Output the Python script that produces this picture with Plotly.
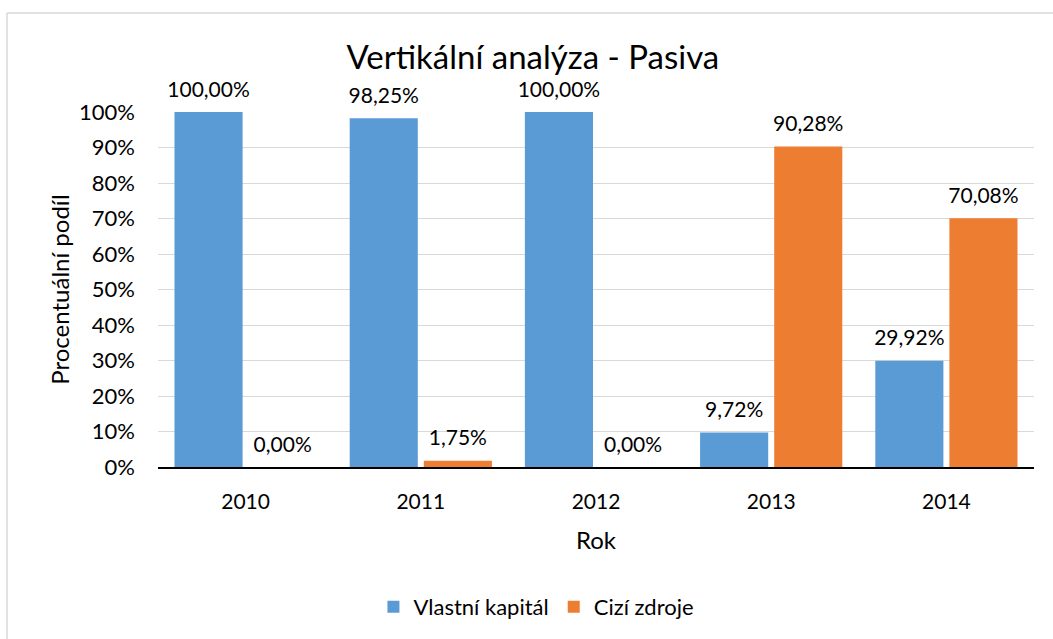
import plotly.graph_objects as go

years = ["2010", "2011", "2012", "2013", "2014"]
vlastni_kapital = [1.0000, 0.9825, 1.0000, 0.0972, 0.2992]
cizi_zdroje = [0.0000, 0.0175, 0.0000, 0.9028, 0.7008]
series_names = ["Vlastní kapitál", "Cizí zdroje"]
colors = ["#5B9BD5", "#ED7D31"]

FONT = "Lato"
fig = go.Figure()
for name, vals, col in zip(series_names, [vlastni_kapital, cizi_zdroje], colors):
    fig.add_trace(go.Bar(
        x=years, y=vals, name=name, marker=dict(color=col, line=dict(width=0)),
        texttemplate="<span style='font-size:21px'>%{y:.2%}</span><br> ",
        textposition="outside", cliponaxis=False, constraintext="none",
        textfont=dict(family=FONT, size=8, color="#000000"),
    ))

border = dict(color="#D9D9D9", width=1.5)
fig.update_layout(
    width=1053, height=639,
    margin=dict(l=158, r=19, t=112, b=172, autoexpand=False),
    paper_bgcolor="white", plot_bgcolor="white",
    separators=", ",
    barmode="group", bargap=0.154, bargroupgap=0.081,
    font=dict(family=FONT, size=21, color="#000000"),
    title=dict(text="Vertikální analýza - Pasiva", x=0.506, xanchor="center",
               y=1 - 57 / 639, yanchor="middle",
               font=dict(family=FONT, size=33, color="#000000")),
    legend=dict(orientation="h", x=0.432, xanchor="center", y=-0.394, yanchor="middle",
                font=dict(family=FONT, size=22), itemsizing="constant",
                traceorder="normal"),
    showlegend=True,
    shapes=[
        dict(type="line", xref="paper", yref="paper", x0=-0.1724, x1=-0.1724,
             y0=-0.6, y1=1.279, line=border, layer="below"),
        dict(type="line", xref="paper", yref="paper", x0=-0.1724, x1=1.03,
             y0=1.279, y1=1.279, line=border, layer="below"),
    ],
)
fig.update_xaxes(
    showline=True, linecolor="#000000", linewidth=1.5,
    ticks="", ticklabelstandoff=15,
    tickfont=dict(family=FONT, size=21),
    title=dict(text="Rok", standoff=20, font=dict(family=FONT, size=24)),
)
fig.update_yaxes(
    range=[0, 1.0001], dtick=0.1, tickformat=".0%",
    showgrid=True, gridcolor="#D9D9D9", gridwidth=1.2,
    zeroline=False, showline=False, ticks="", ticklabelstandoff=22,
    tickfont=dict(family=FONT, size=22),
    title=dict(text="Procentuální podíl", standoff=2, font=dict(family=FONT, size=24)),
)
fig.write_html(
    "out.html",
    config={"displayModeBar": False},
    post_script="document.body.style.margin='0';document.body.style.overflow='hidden';",
)
